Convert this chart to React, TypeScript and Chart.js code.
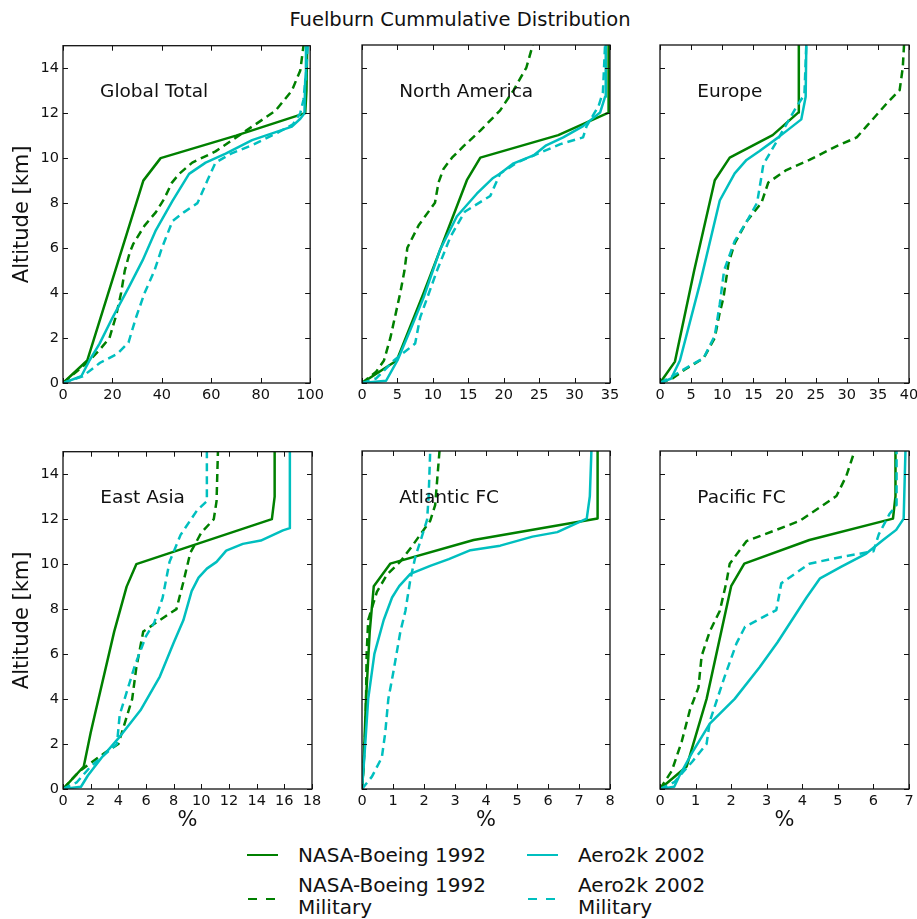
import React, { useEffect, useRef } from 'react';
import { Chart, registerables } from 'chart.js';

Chart.register(...registerables);

type Pt = [number, number];

const GREEN = '#008000';
const CYAN = '#00BFBF';
const FONT = "'DejaVu Sans', 'Liberation Sans', sans-serif";

const figureTitle = 'Fuelburn Cummulative Distribution';
const yAxisTitle = 'Altitude [km]';
const xAxisTitle = '%';
const seriesNames = ['NASA-Boeing 1992', 'NASA-Boeing 1992 Military', 'Aero2k 2002', 'Aero2k 2002 Military'];
const panelTitles = ['Global Total', 'North America', 'Europe', 'East Asia', 'Atlantic FC', 'Pacific FC'];

const altTicks = [0, 2, 4, 6, 8, 10, 12, 14];
const altMax = 15;

const globalTicks = [0, 20, 40, 60, 80, 100];
const naTicks = [0, 5, 10, 15, 20, 25, 30, 35];
const euTicks = [0, 5, 10, 15, 20, 25, 30, 35, 40];
const eaTicks = [0, 2, 4, 6, 8, 10, 12, 14, 16, 18];
const atTicks = [0, 1, 2, 3, 4, 5, 6, 7, 8];
const paTicks = [0, 1, 2, 3, 4, 5, 6, 7];

// Global Total
const globalNasa: Pt[] = [[0, 0], [9.8, 1], [32.5, 9], [39.5, 10], [70, 11], [98, 12], [98.5, 13], [98.8, 15]];
const globalNasaMil: Pt[] = [[0, 0], [5.4, 0.5], [10.7, 1], [15, 1.5], [18.8, 2], [21.5, 3], [23.5, 4], [25, 5], [27, 5.8], [28.5, 6.2], [33, 7], [37.6, 7.6], [41, 8.2], [44, 8.9], [47, 9.3], [52.3, 9.8], [61.7, 10.3], [73.8, 11.2], [85.9, 12.1], [92.6, 13], [96, 13.9], [97.3, 15]];
const globalAero: Pt[] = [[0, 0], [7.4, 0.3], [10.7, 1], [14.8, 1.75], [20, 2.9], [26.8, 4.3], [32.2, 5.45], [37.6, 6.8], [44.3, 8.1], [51, 9.3], [57.7, 9.8], [65.8, 10.2], [76.5, 10.8], [84.6, 11.1], [92.6, 11.4], [96, 11.75], [97.7, 12], [98, 13.5], [98.3, 15]];
const globalAeroMil: Pt[] = [[0, 0], [8, 0.3], [15, 0.9], [22, 1.3], [26.5, 1.8], [29.5, 2.9], [33, 4], [37, 5], [40, 6], [44.3, 7.2], [49, 7.6], [54.4, 8], [58.4, 9], [61.7, 9.8], [68, 10.2], [77, 10.6], [87.2, 11.15], [93, 11.5], [96, 12], [97.3, 12.6], [98.5, 14], [99, 15]];

// North America
const naNasa: Pt[] = [[0, 0], [4.9, 1], [8.7, 4], [14.8, 9], [16.7, 10], [27.7, 11], [34.8, 12], [34.8, 15]];
const naNasaMil: Pt[] = [[0, 0], [2, 0.5], [3.1, 1], [4, 2], [4.7, 3], [5.4, 4], [6, 5], [6.4, 6], [8, 7], [10.3, 8], [10.8, 8.9], [11.5, 9.5], [12.7, 10], [14.3, 10.5], [16.7, 11.2], [19.5, 12.1], [21.4, 13], [23.2, 14], [24.1, 15]];
const naAero: Pt[] = [[0, 0], [3.4, 0.1], [5, 1], [7, 2.5], [8.7, 3.8], [11, 5.9], [13.4, 7.4], [16.2, 8.4], [18.5, 9.1], [19.5, 9.3], [21.4, 9.75], [24.2, 10.1], [26, 10.55], [28.4, 10.9], [31.2, 11.4], [33.6, 12], [34.3, 12.7], [34.4, 15]];
const naAeroMil: Pt[] = [[0, 0], [2, 0.2], [4.5, 1], [7.5, 1.75], [8.2, 2.9], [10.6, 5], [12.5, 6.5], [14.5, 7.6], [18.1, 8.3], [19.5, 9.3], [22, 9.8], [25, 10.2], [28, 10.6], [31.2, 10.9], [31.7, 11.4], [33.4, 12.3], [34, 12.9], [34.3, 15]];

// Europe
const euNasa: Pt[] = [[0, 0], [2.4, 0.95], [5.5, 5], [8.8, 9], [11.2, 10], [18.1, 11], [22.2, 12], [22.3, 15]];
const euNasaMil: Pt[] = [[0, 0], [2, 0.2], [4, 0.6], [7, 1.1], [8.8, 2], [9.5, 3], [10.2, 3.8], [11, 5.3], [12, 6.2], [14, 7.2], [16.3, 8], [17.4, 8.9], [20.3, 9.45], [24, 9.9], [28.3, 10.5], [31.6, 10.9], [33.2, 11.4], [36.4, 12.4], [38.5, 13], [39, 14], [39.2, 15]];
const euAero: Pt[] = [[0, 0], [1.8, 0.2], [3.2, 1], [6.5, 4.5], [9.6, 8.1], [12, 9.3], [13.9, 9.9], [16, 10.3], [19, 10.9], [22.7, 11.7], [23.4, 12.7], [23.5, 15]];
const euAeroMil: Pt[] = [[0, 0], [2, 0.3], [5, 0.8], [7, 1.1], [8.8, 2.1], [9.6, 3.5], [10.3, 5], [12, 6.3], [14, 7.2], [15.6, 8], [16.2, 9], [16.6, 9.7], [18.7, 10.7], [21.8, 12.2], [23.2, 12.8], [23.5, 15]];

// East Asia
const eaNasa: Pt[] = [[0, 0], [1.5, 1], [2, 2.5], [2.3, 3.3], [3.7, 7], [4.6, 9], [5.3, 10], [15.1, 12], [15.3, 13], [15.3, 15]];
const eaNasaMil: Pt[] = [[0, 0], [1.2, 0.8], [3, 1.6], [4, 2], [4.5, 3], [5, 4], [5.3, 5.4], [5.8, 7], [6.5, 7.3], [7.7, 7.8], [8.2, 8], [8.7, 9.2], [9.2, 10.5], [10, 11.4], [10.9, 12], [11.1, 12.8], [11.2, 15]];
const eaAero: Pt[] = [[0, 0], [1.3, 0.1], [1.8, 0.6], [2.8, 1.4], [4, 2.25], [5.6, 3.5], [7, 5], [8, 6.5], [8.7, 7.5], [9.3, 8.8], [9.8, 9.4], [10.4, 9.8], [11.1, 10.1], [11.8, 10.6], [13, 10.9], [14.3, 11.05], [15.9, 11.5], [16.4, 11.6], [16.4, 15]];
const eaAeroMil: Pt[] = [[0, 0], [1, 0.3], [2, 1], [3.9, 2], [4.1, 3.3], [4.5, 4.1], [5.2, 5.5], [6, 6.8], [6.6, 7.4], [7.2, 8.5], [7.7, 10.1], [8.5, 11.3], [9.7, 12.4], [10.4, 12.8], [10.4, 15]];

// Atlantic FC
const atNasa: Pt[] = [[0, 0], [0.05, 1], [0.13, 4], [0.25, 7], [0.38, 9], [0.91, 10], [3.6, 11.05], [7.6, 12], [7.6, 15]];
const atNasaMil: Pt[] = [[0, 0], [0.05, 1], [0.12, 3], [0.15, 6], [0.2, 7.5], [0.48, 8.75], [0.8, 9.5], [1.24, 10.1], [1.6, 10.75], [2.2, 11.9], [2.36, 12.6], [2.5, 15]];
const atAero: Pt[] = [[0, 0], [0.08, 1.5], [0.2, 4], [0.4, 6], [0.7, 7.5], [0.97, 8.5], [1.2, 9], [1.56, 9.55], [2.2, 9.9], [2.8, 10.2], [3.5, 10.6], [4.46, 10.8], [5.5, 11.2], [6.3, 11.4], [7.25, 12], [7.35, 13], [7.4, 15]];
const atAeroMil: Pt[] = [[0, 0], [0.32, 0.55], [0.64, 1.4], [0.75, 2.5], [0.85, 4], [1, 5.1], [1.24, 7], [1.4, 7.9], [1.56, 9.3], [1.72, 10.3], [1.93, 11.2], [2.1, 11.95], [2.15, 13], [2.2, 15]];

// Pacific FC
const paNasa: Pt[] = [[0, 0], [0.75, 1], [1.31, 4], [2, 9], [2.37, 10], [4.2, 11.05], [6.55, 12], [6.62, 13], [6.62, 15]];
const paNasaMil: Pt[] = [[0, 0], [0.33, 0.8], [0.61, 2.1], [0.84, 3.5], [1.08, 4.5], [1.17, 5.9], [1.4, 7], [1.68, 7.9], [1.87, 9.2], [1.96, 10], [2.43, 11], [3.27, 11.5], [3.93, 11.9], [4.96, 13], [5.24, 13.9], [5.47, 15]];
const paAero: Pt[] = [[0, 0], [0.4, 0.1], [0.55, 0.6], [0.9, 1.6], [1.4, 2.9], [2.1, 4], [2.8, 5.4], [3.3, 6.5], [4.12, 8.5], [4.5, 9.35], [5.1, 9.87], [5.8, 10.45], [6.27, 11.05], [6.64, 11.5], [6.85, 12], [6.9, 15]];
const paAeroMil: Pt[] = [[0, 0], [0.4, 0.3], [0.9, 1.2], [1.31, 2], [1.4, 3], [1.82, 5], [2.15, 6.46], [2.39, 7.2], [3.27, 7.94], [3.41, 9.13], [4.2, 10], [5.1, 10.3], [6, 10.55], [6.15, 11.3], [6.45, 12.2], [6.65, 12.6], [6.65, 15]];

const panelSeries: Pt[][][] = [
  [globalNasa, globalNasaMil, globalAero, globalAeroMil],
  [naNasa, naNasaMil, naAero, naAeroMil],
  [euNasa, euNasaMil, euAero, euAeroMil],
  [eaNasa, eaNasaMil, eaAero, eaAeroMil],
  [atNasa, atNasaMil, atAero, atAeroMil],
  [paNasa, paNasaMil, paAero, paAeroMil],
];
const panelXTicks = [globalTicks, naTicks, euTicks, eaTicks, atTicks, paTicks];

const seriesStyles = [
  { color: GREEN, dash: [] as number[] },
  { color: GREEN, dash: [8, 5] },
  { color: CYAN, dash: [] as number[] },
  { color: CYAN, dash: [8, 5] },
];

// layout (pixels)
const colLeft = [63, 362, 660];
const colRight = [312, 610, 909];
const rowTop = [45, 451];
const rowBottom = [383, 789];

function Panel({ index }: { index: number }) {
  const ref = useRef<HTMLCanvasElement | null>(null);
  const col = index % 3;
  const row = Math.floor(index / 3);
  const x0 = colLeft[col], x1 = colRight[col], y0 = rowTop[row], y1 = rowBottom[row];
  const cLeft = col === 0 ? 0 : x0 - 50;
  const padL = x0 - cLeft;
  const padT = 12;
  const padR = 16;
  const padB = row === 0 ? 28 : 45;
  const cTop = y0 - padT;
  const w = x1 - cLeft + padR;
  const h = y1 - cTop + padB;

  useEffect(() => {
    const xTicks = panelXTicks[index];
    const xMax = xTicks[xTicks.length - 1];
    const title = panelTitles[index];
    const deco = {
      id: 'deco' + index,
      afterDraw(chart: any) {
        const { ctx, chartArea, scales } = chart;
        const { left, right, top, bottom } = chartArea;
        const xs = scales.x, ys = scales.y;
        ctx.save();
        ctx.strokeStyle = '#111';
        ctx.lineWidth = 1;
        const tl = 5;
        ctx.beginPath();
        for (const v of xTicks) {
          const px = Math.round(xs.getPixelForValue(v)) + 0.5;
          ctx.moveTo(px, bottom); ctx.lineTo(px, bottom - tl);
          ctx.moveTo(px, top); ctx.lineTo(px, top + tl);
        }
        for (const v of altTicks) {
          const py = Math.round(ys.getPixelForValue(v)) + 0.5;
          ctx.moveTo(left, py); ctx.lineTo(left + tl, py);
          ctx.moveTo(right, py); ctx.lineTo(right - tl, py);
        }
        ctx.stroke();
        ctx.lineWidth = 1.3;
        ctx.strokeRect(left, top, right - left, bottom - top);
        ctx.fillStyle = '#111';
        ctx.font = `18.5px ${FONT}`;
        ctx.textAlign = 'left';
        ctx.textBaseline = 'alphabetic';
        ctx.fillText(title, left + 0.15 * (right - left), top + 51.5);
        ctx.restore();
      },
    };
    const datasets = panelSeries[index].map((s, i) => ({
      label: seriesNames[i],
      data: s.map(([x, y]) => ({ x, y })),
      borderColor: seriesStyles[i].color,
      backgroundColor: seriesStyles[i].color,
      borderDash: seriesStyles[i].dash,
      borderWidth: 2.5,
      showLine: true,
      pointRadius: 0,
      pointHoverRadius: 0,
      fill: false,
      tension: 0,
      order: 4 - i,
      borderCapStyle: 'butt',
      borderJoinStyle: 'round',
    }));
    const chart = new Chart(ref.current as HTMLCanvasElement, {
      type: 'scatter',
      data: { datasets } as any,
      options: {
        animation: false,
        responsive: true,
        maintainAspectRatio: false,
        events: [],
        layout: { padding: { left: 0, top: padT, right: padR, bottom: 0 } },
        plugins: { legend: { display: false }, tooltip: { enabled: false } },
        scales: {
          x: {
            type: 'linear',
            min: 0,
            max: xMax,
            grid: { display: false, drawTicks: false },
            border: { display: false },
            afterBuildTicks: (s: any) => { s.ticks = xTicks.map((v) => ({ value: v })); },
            afterFit: (s: any) => { s.height = padB; },
            ticks: {
              font: { family: FONT, size: 14.5 },
              color: '#111',
              padding: 4,
              maxRotation: 0,
              minRotation: 0,
              autoSkip: false,
              callback: (v: any) => String(v),
            },
            title: {
              display: row === 1,
              text: xAxisTitle,
              font: { family: FONT, size: 21 },
              color: '#111',
              padding: { top: 0, bottom: 1 },
            },
          },
          y: {
            type: 'linear',
            min: 0,
            max: altMax,
            grid: { display: false, drawTicks: false },
            border: { display: false },
            afterBuildTicks: (s: any) => { s.ticks = altTicks.map((v) => ({ value: v })); },
            afterFit: (s: any) => { s.width = padL; },
            ticks: {
              display: col === 0,
              font: { family: FONT, size: 14.5 },
              color: '#111',
              padding: 4,
              autoSkip: false,
              callback: (v: any) => String(v),
            },
            title: {
              display: col === 0,
              text: yAxisTitle,
              font: { family: FONT, size: 21 },
              color: '#111',
              padding: { top: 10, bottom: 0 },
            },
          },
        },
      } as any,
      plugins: [deco],
    });
    return () => chart.destroy();
  }, [index]);

  return (
    <div style={{ position: 'absolute', left: cLeft, top: cTop, width: w, height: h }}>
      <canvas ref={ref} />
    </div>
  );
}

function LegendLine({ x, y, color, dashed }: { x: number; y: number; color: string; dashed: boolean }) {
  if (!dashed) {
    return <div style={{ position: 'absolute', left: x, top: y - 1.25, width: 31, height: 2.5, background: color }} />;
  }
  return (
    <>
      <div style={{ position: 'absolute', left: x + 1, top: y - 1.25, width: 8.5, height: 2.5, background: color }} />
      <div style={{ position: 'absolute', left: x + 19, top: y - 1.25, width: 8.5, height: 2.5, background: color }} />
    </>
  );
}

const textStyle: React.CSSProperties = {
  position: 'absolute',
  fontFamily: FONT,
  fontSize: 20,
  lineHeight: '22px',
  color: '#111',
  whiteSpace: 'nowrap',
};

export default function App() {
  return (
    <div style={{ position: 'absolute', left: 0, top: 0, width: 917, height: 919, overflow: 'hidden', background: '#fff' }}>
      <div style={{ ...textStyle, fontSize: 19.5, left: 0, width: 920, textAlign: 'center', top: 8.5 }}>{figureTitle}</div>
      {[0, 1, 2, 3, 4, 5].map((i) => (
        <Panel key={i} index={i} />
      ))}
      <LegendLine x={247} y={855} color={GREEN} dashed={false} />
      <div style={{ ...textStyle, left: 298, top: 844 }}>{seriesNames[0]}</div>
      <LegendLine x={247} y={899} color={GREEN} dashed={true} />
      <div style={{ ...textStyle, left: 298, top: 874 }}>NASA-Boeing 1992<br />Military</div>
      <LegendLine x={527} y={855} color={CYAN} dashed={false} />
      <div style={{ ...textStyle, left: 578, top: 844 }}>{seriesNames[2]}</div>
      <LegendLine x={527} y={899} color={CYAN} dashed={true} />
      <div style={{ ...textStyle, left: 578, top: 874 }}>Aero2k 2002<br />Military</div>
    </div>
  );
}
